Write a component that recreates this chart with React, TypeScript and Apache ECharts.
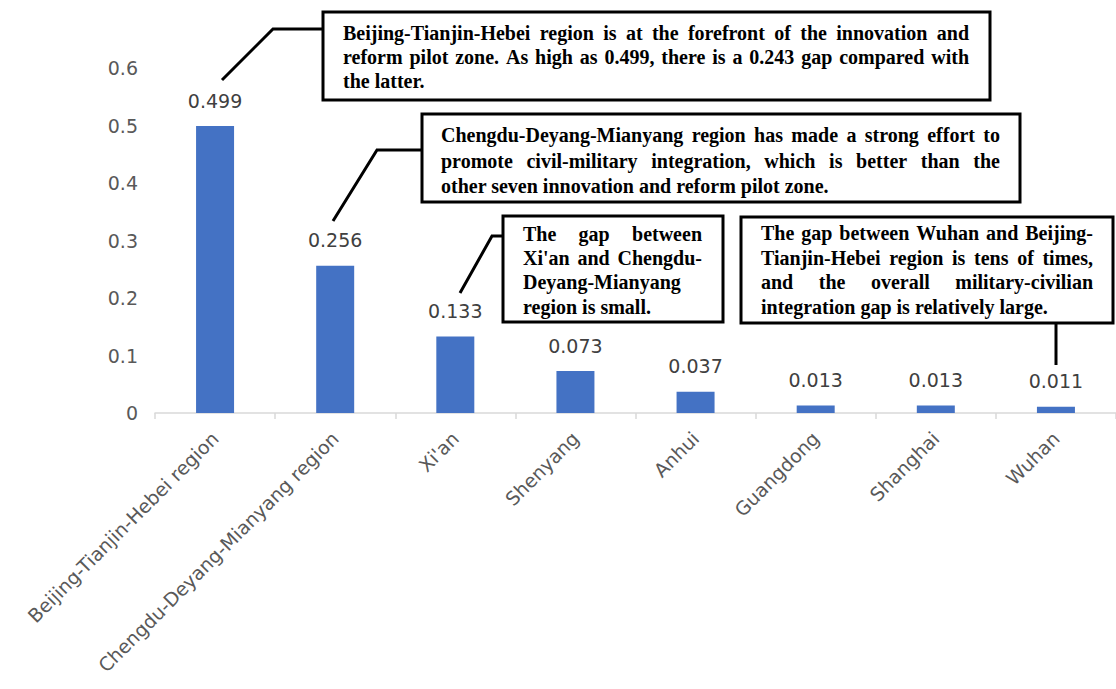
import React, { useEffect, useRef } from "react";
import * as echarts from "echarts";

const categories = [
  "Beijing-Tianjin-Hebei region",
  "Chengdu-Deyang-Mianyang region",
  "Xi'an",
  "Shenyang",
  "Anhui",
  "Guangdong",
  "Shanghai",
  "Wuhan",
];
const values = [0.499, 0.256, 0.133, 0.073, 0.037, 0.013, 0.013, 0.011];
const yMin = 0;
const yMax = 0.6;
const yInterval = 0.1;

const note1Lines = [
  "Beijing-Tianjin-Hebei region is at the forefront of the innovation and",
  "reform pilot zone. As high as 0.499, there is a 0.243 gap compared with",
  "the latter.",
];
const note2Lines = [
  "Chengdu-Deyang-Mianyang region has made a strong effort to",
  "promote civil-military integration, which is better than the",
  "other seven innovation and reform pilot zone.",
];
const note3Lines = ["The gap between", "Xi'an and Chengdu-", "Deyang-Mianyang", "region is small."];
const note4Lines = [
  "The gap between Wuhan and Beijing-",
  "Tianjin-Hebei region is tens of times,",
  "and the overall military-civilian",
  "integration gap is relatively large.",
];

const NOTE_FONT_SIZE = 20;
const NOTE_FONT_FAMILY = '"Liberation Serif", "Times New Roman", serif';
const AXIS_FONT = '"DejaVu Sans", "Liberation Sans", sans-serif';

type Box = {
  lines: string[];
  x: number;
  y: number;
  w: number;
  h: number;
  textX: number;
  textW: number;
  firstY: number;
  pitch: number;
  justify: boolean[];
  leader: number[][];
};

const boxes: Box[] = [
  {
    lines: note1Lines,
    x: 323, y: 12, w: 667, h: 88,
    textX: 343, textW: 626, firstY: 33, pitch: 24,
    justify: [true, true, false],
    leader: [[222, 80], [273, 29], [323, 29]],
  },
  {
    lines: note2Lines,
    x: 422, y: 114, w: 598, h: 88,
    textX: 441, textW: 559, firstY: 135, pitch: 25.5,
    justify: [true, true, false],
    leader: [[333, 221], [377, 150], [422, 150]],
  },
  {
    lines: note3Lines,
    x: 503, y: 216, w: 220, h: 106,
    textX: 523, textW: 179, firstY: 233.5, pitch: 24.4,
    justify: [true, true, false, false],
    leader: [[460, 293], [492, 236], [503, 236]],
  },
  {
    lines: note4Lines,
    x: 741, y: 217, w: 372, h: 106,
    textX: 761, textW: 332, firstY: 233, pitch: 24.5,
    justify: [true, true, true, false],
    leader: [[1056, 323], [1056, 365]],
  },
];

function buildNotes(): any[] {
  const canvas = document.createElement("canvas");
  const ctx = canvas.getContext("2d")!;
  ctx.font = `bold ${NOTE_FONT_SIZE}px ${NOTE_FONT_FAMILY}`;
  const els: any[] = [];
  const textStyle = (t: string) => ({
    text: t,
    fontSize: NOTE_FONT_SIZE,
    fontFamily: NOTE_FONT_FAMILY,
    fontWeight: "bold",
    fill: "#000",
    align: "left",
    verticalAlign: "middle",
  });
  boxes.forEach((b) => {
    els.push({
      type: "polyline",
      shape: { points: b.leader },
      style: { stroke: "#000", lineWidth: 3, fill: null },
      z: 10,
    });
    els.push({
      type: "rect",
      shape: { x: b.x, y: b.y, width: b.w, height: b.h },
      style: { fill: "#fff", stroke: "#000", lineWidth: 3 },
      z: 11,
    });
    b.lines.forEach((line, i) => {
      const y = b.firstY + i * b.pitch;
      const words = line.split(" ");
      if (b.justify[i] && words.length > 1) {
        const widths = words.map((w) => ctx.measureText(w).width);
        const total = widths.reduce((a, c) => a + c, 0);
        const gap = (b.textW - total) / (words.length - 1);
        let cx = b.textX;
        words.forEach((w, k) => {
          els.push({ type: "text", x: cx, y, style: textStyle(w), z: 12 });
          cx += widths[k] + gap;
        });
      } else {
        els.push({ type: "text", x: b.textX, y, style: textStyle(line), z: 12 });
      }
    });
  });
  return els;
}

export default function App() {
  const ref = useRef<HTMLDivElement>(null);
  useEffect(() => {
    if (!ref.current) return;
    const chart = echarts.init(ref.current, undefined, { renderer: "svg" });
    chart.setOption({
      animation: false,
      backgroundColor: "#fff",
      grid: { left: 155, top: 68, width: 963, height: 345, containLabel: false },
      xAxis: {
        type: "category",
        data: categories,
        axisLine: { lineStyle: { color: "#d9d9d9", width: 1.5 } },
        axisTick: { show: true, length: 6, lineStyle: { color: "#d9d9d9", width: 1.5 } },
        axisLabel: {
          rotate: 45,
          interval: 0,
          margin: 22,
          color: "#595959",
          fontSize: 19,
          fontFamily: AXIS_FONT,
        },
      },
      yAxis: {
        type: "value",
        min: yMin,
        max: yMax,
        interval: yInterval,
        axisLine: { show: false },
        axisTick: { show: false },
        splitLine: { show: false },
        axisLabel: {
          margin: 17,
          color: "#595959",
          fontSize: 19,
          fontFamily: AXIS_FONT,
        },
      },
      series: [
        {
          type: "bar",
          data: values,
          barWidth: 38,
          itemStyle: { color: "#4472C4" },
          label: {
            show: true,
            position: "top",
            distance: 16,
            color: "#404040",
            fontSize: 19,
            fontFamily: AXIS_FONT,
            formatter: (p: any) => String(p.value),
          },
        },
      ],
      graphic: buildNotes(),
    });
    return () => chart.dispose();
  }, []);
  return (
    <div
      ref={ref}
      style={{ position: "fixed", left: 0, top: 0, width: 1116, height: 689, background: "#fff" }}
    />
  );
}
